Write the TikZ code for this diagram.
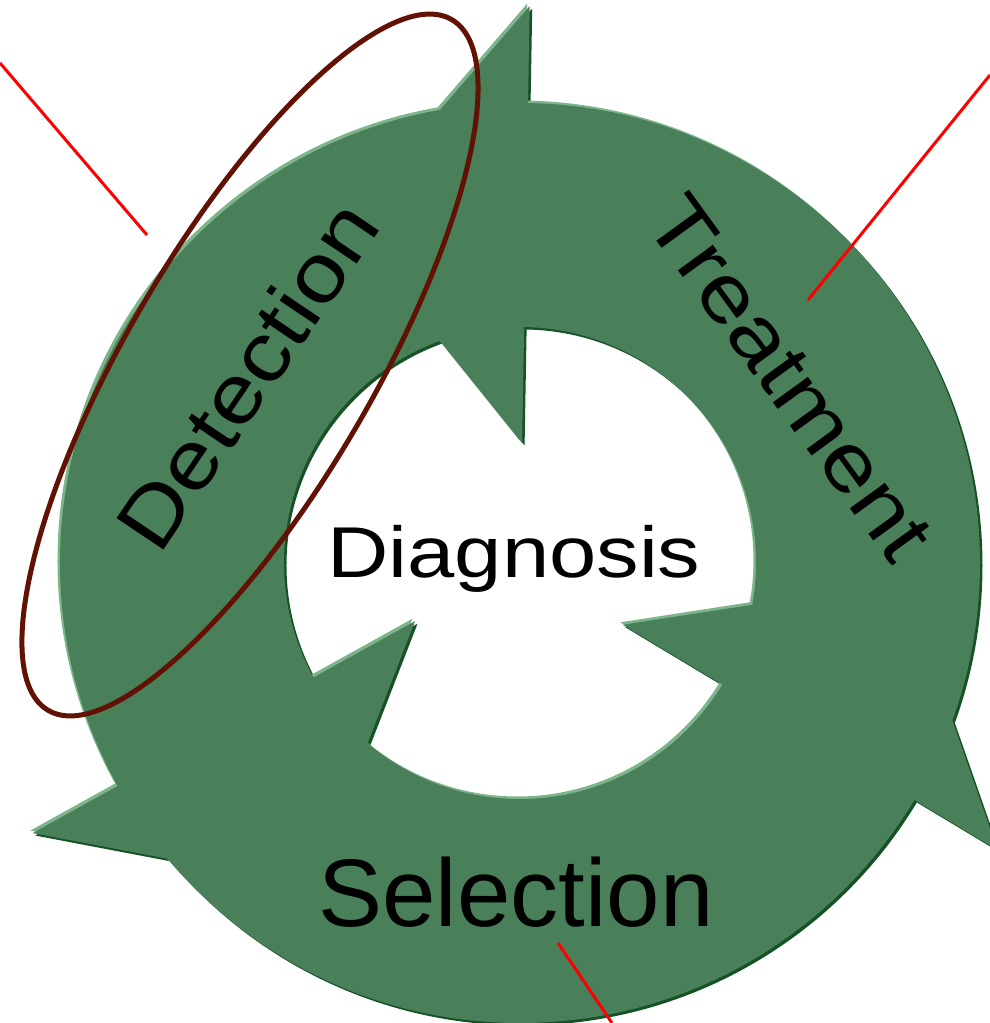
\documentclass[tikz,border=0pt]{standalone}
\usepackage{fontspec}
\setmainfont{Liberation Sans}
\usetikzlibrary{calc}

\definecolor{cycgreen}{RGB}{73,128,89}
\definecolor{cyclight}{RGB}{125,180,140}
\definecolor{cycdark}{RGB}{22,82,38}
\definecolor{loopred}{RGB}{98,18,4}

\tikzset{
  arcword/.style={inner sep=0pt, font=\fontsize{82}{90}\selectfont},
  midword/.style={inner sep=0pt, anchor=base, font=\fontsize{72}{80}\selectfont},
  lowword/.style={inner sep=0pt, anchor=base, font=\fontsize{96}{100}\selectfont},
  pointer/.style={red, line width=3pt},
}

\begin{document}
\begin{tikzpicture}[x=1pt,y=1pt]
  \useasboundingbox (-520,-460) rectangle (470,563);

  % the three arrows: dark edge, light edge, then the body
  \foreach \off/\col in {2.5/cycdark,-2.5/cyclight,0/cycgreen}{
    \begin{scope}[shift={(\off,-\off)}]
      \fill[\col,even odd rule] (0,0) circle[radius=460] (0,0) circle[radius=236];
      \foreach \t in {89,-31,209}
        \fill[\col] (\t:120) -- (\t:557) -- ($(\t:338.5)+(\t+90:182)$) -- cycle;
    \end{scope}
  }

  \node[arcword,rotate=56] (detection) at (-273,188) {\scalebox{1.15}[1]{Detection}};
  \node[arcword,rotate=-54] (treatment) at (270,185) {\scalebox{1.15}[1]{Treatment}};
  \node[midword] (diagnosis) at (-6,-14) {\scalebox{1.18}[1]{Diagnosis}};
  \node[lowword] (selection) at (-4,-363) {Selection};

  % ring round Detection
  \coordinate (ring) at (-270,198);
  \draw[loopred,line width=5pt,rotate around={59.7:(ring)}] (ring) ellipse[x radius=400,y radius=123];

  % red pointers
  \coordinate (a1) at (-520,500);
  \coordinate (a2) at (-373,328);
  \coordinate (b1) at (470,488);
  \coordinate (b2) at (288,263);
  \coordinate (c1) at (38,-380);
  \coordinate (c2) at (92,-460);
  \draw[pointer] (a1) -- (a2);
  \draw[pointer] (b1) -- (b2);
  \draw[pointer] (c1) -- (c2);
\end{tikzpicture}
\end{document}
